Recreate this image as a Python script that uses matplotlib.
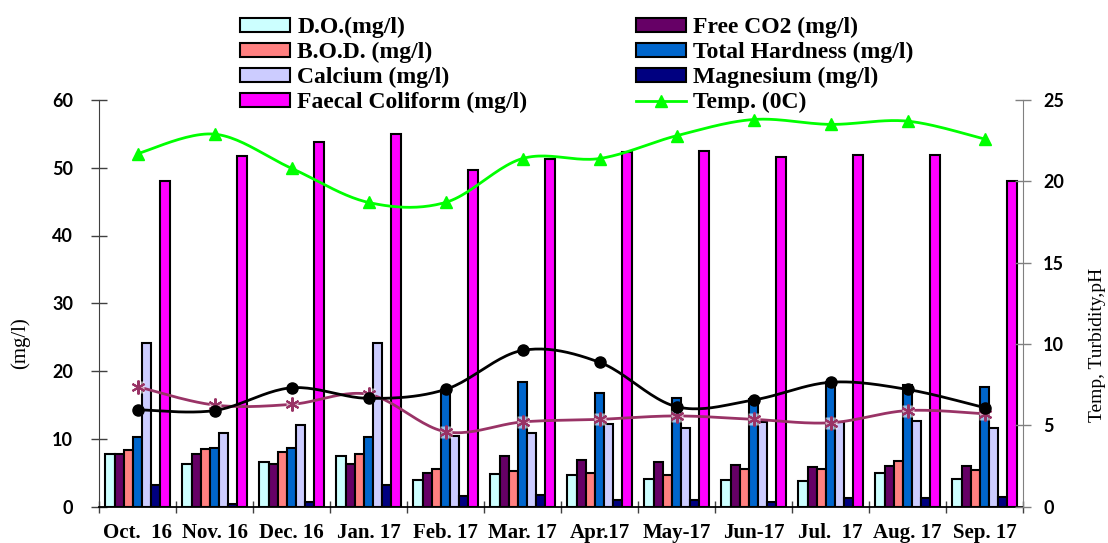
import numpy as np
import matplotlib
matplotlib.use("Agg")
import matplotlib.pyplot as plt
from matplotlib.lines import Line2D

# ---- data -------------------------------------------------------------
months = ["Oct.  16", "Nov. 16", "Dec. 16", "Jan. 17", "Feb. 17", "Mar. 17",
          "Apr.17", "May-17", "Jun-17", "Jul.  17", "Aug. 17", "Sep. 17"]

do_mg = [7.8, 6.3, 6.5, 7.5, 3.9, 4.8, 4.6, 4.0, 3.9, 3.8, 4.9, 4.0]
free_co2 = [7.7, 7.8, 6.3, 6.2, 4.9, 7.5, 6.9, 6.6, 6.1, 5.9, 6.0, 6.0]
bod = [8.35, 8.5, 8.1, 7.8, 5.5, 5.3, 4.9, 4.7, 5.5, 5.6, 6.7, 5.4]
hardness = [10.3, 8.6, 8.7, 10.3, 17.2, 18.4, 16.8, 16.0, 15.9, 18.4, 17.9, 17.6]
calcium = [24.2, 10.8, 12.1, 24.2, 10.4, 10.8, 12.2, 11.6, 12.5, 12.5, 12.6, 11.6]
magnesium = [3.2, 0.4, 0.7, 3.2, 1.55, 1.75, 1.0, 0.9, 0.7, 1.2, 1.3, 1.35]
coliform = [48.1, 51.8, 53.8, 55.0, 49.7, 51.3, 52.3, 52.5, 51.6, 51.9, 51.9, 48.0]

temp = [21.7, 22.9, 20.8, 18.7, 18.7, 21.4, 21.4, 22.8, 23.8, 23.5, 23.7, 22.6]
ph = [5.95, 5.9, 7.3, 6.65, 7.2, 9.6, 8.87, 6.14, 6.55, 7.64, 7.2, 6.08]
turbidity = [7.37, 6.24, 6.28, 6.9, 4.6, 5.2, 5.36, 5.57, 5.36, 5.15, 5.9, 5.7]

bar_series = [
    ("D.O.(mg/l)", do_mg, "#CCFFFF"),
    ("Free CO2 (mg/l)", free_co2, "#660066"),
    ("B.O.D. (mg/l)", bod, "#FF8080"),
    ("Total Hardness (mg/l)", hardness, "#0066CC"),
    ("Calcium (mg/l)", calcium, "#CCCCFF"),
    ("Magnesium (mg/l)", magnesium, "#000080"),
    ("Faecal Coliform (mg/l)", coliform, "#FF00FF"),
]


def smooth(xs, ys, n=24):
    """Bezier smoothing through the points (control points at +-1/6 of the neighbour chord)."""
    p = np.column_stack([xs, ys]).astype(float)
    ext = np.vstack([p[0], p, p[-1]])
    out = []
    for i in range(len(p) - 1):
        p0, p1, p2, p3 = ext[i], ext[i + 1], ext[i + 2], ext[i + 3]
        c1 = p1 + (p2 - p0) / 6.0
        c2 = p2 - (p3 - p1) / 6.0
        t = np.linspace(0, 1, n, endpoint=(i == len(p) - 2))[:, None]
        seg = ((1 - t) ** 3) * p1 + 3 * ((1 - t) ** 2) * t * c1 + 3 * (1 - t) * t ** 2 * c2 + t ** 3 * p2
        out.append(seg)
    out = np.vstack(out)
    return out[:, 0], out[:, 1]


serif = ["Liberation Serif", "DejaVu Serif"]
sans = ["Lato", "DejaVu Sans"]
W, H = 1108, 543

fig = plt.figure(figsize=(W / 100, H / 100), dpi=100)
ax = fig.add_axes([99 / W, 36.5 / H, 924 / W, 406.5 / H])
ax2 = ax.twinx()

x = np.arange(len(months))
w = 0.119
handles = {}
for j, (name, vals, col) in enumerate(bar_series):
    b = ax.bar(x + (j - 3) * w, vals, width=w, color=col, edgecolor="black",
               linewidth=1.5, label=name, zorder=2)
    handles[name] = b

ax.set_xlim(-0.5, len(months) - 0.5)
ax.set_ylim(0, 60)
ax.set_yticks(np.arange(0, 61, 10))
ax.set_xticks(x)
ax.set_xticklabels(months, fontfamily=serif, fontweight="bold", fontsize=15)
ax.tick_params(axis="x", which="major", length=0, pad=12)
ax.set_xticks(np.arange(-0.5, len(months)), minor=True)
ax.tick_params(axis="x", which="minor", direction="inout", length=9,
               width=1, color="#404040")
ax.tick_params(axis="y", direction="inout", length=11, width=1,
               color="#404040", pad=13)
for lab in ax.get_yticklabels():
    lab.set_fontfamily(sans)
    lab.set_fontweight("bold")
    lab.set_fontsize(13)

for s in ["top", "right"]:
    ax.spines[s].set_visible(False)
ax.spines["left"].set_color("#404040")
ax.spines["bottom"].set_color("black")
ax.spines["bottom"].set_linewidth(1.3)

# secondary axis: temperature, turbidity and pH
ax2.set_ylim(0, 25)
ax2.set_yticks(np.arange(0, 26, 5))
for s in ["top", "left", "bottom"]:
    ax2.spines[s].set_visible(False)
ax2.spines["right"].set_color("#808080")
ax2.tick_params(axis="y", direction="inout", length=11, width=1,
                color="#808080", pad=9)
for lab in ax2.get_yticklabels():
    lab.set_fontfamily(sans)
    lab.set_fontweight("bold")
    lab.set_fontsize(13)

sx, sy = smooth(x, turbidity)
ax2.plot(sx, sy, color="#993366", lw=2, zorder=3)
ax2.plot(x, turbidity, ls="none", marker="s", ms=9, mfc="white", mec="none",
         alpha=0.6, zorder=3)
ax2.plot(x, turbidity, ls="none", marker=(6, 2, 0), ms=10, mec="#993366",
         mew=1.5, zorder=4)

sx, sy = smooth(x, ph)
ax2.plot(sx, sy, color="black", lw=2, zorder=5)
ax2.plot(x, ph, ls="none", marker="o", ms=8, color="black", zorder=5)

sx, sy = smooth(x, temp)
ax2.plot(sx, sy, color="#00FF00", lw=2, zorder=6)
ax2.plot(x, temp, ls="none", marker="^", ms=9, color="#00FF00", zorder=6)
temp_handle = Line2D([], [], color="#00FF00", lw=2, marker="^", ms=9)

fig.text(20 / W, 1 - 343 / H, "(mg/l)", rotation=90, ha="center", va="center",
         fontfamily=serif, fontsize=15)
fig.text(1098 / W, 1 - 345 / H, "Temp, Turbidity,pH", rotation=90,
         ha="center", va="center", fontfamily=serif, fontsize=14)

leg_kw = dict(loc="upper left", frameon=False,
              prop={"family": serif, "weight": "bold", "size": 17},
              handlelength=2.12, handleheight=0.55, handletextpad=0.3,
              labelspacing=0.165, borderpad=0, borderaxespad=0)
left_names = ["D.O.(mg/l)", "B.O.D. (mg/l)", "Calcium (mg/l)", "Faecal Coliform (mg/l)"]
right_names = ["Free CO2 (mg/l)", "Total Hardness (mg/l)", "Magnesium (mg/l)"]
leg1 = fig.legend([handles[n] for n in left_names], left_names,
                  bbox_to_anchor=(240 / W, 1 - 17 / H), **leg_kw)
leg2 = fig.legend([handles[n] for n in right_names] + [temp_handle],
                  right_names + ["Temp. (0C)"],
                  bbox_to_anchor=(636 / W, 1 - 17 / H), **leg_kw)
leg1.set_zorder(10)
leg2.set_zorder(10)

fig.savefig("out.png", dpi=100)
